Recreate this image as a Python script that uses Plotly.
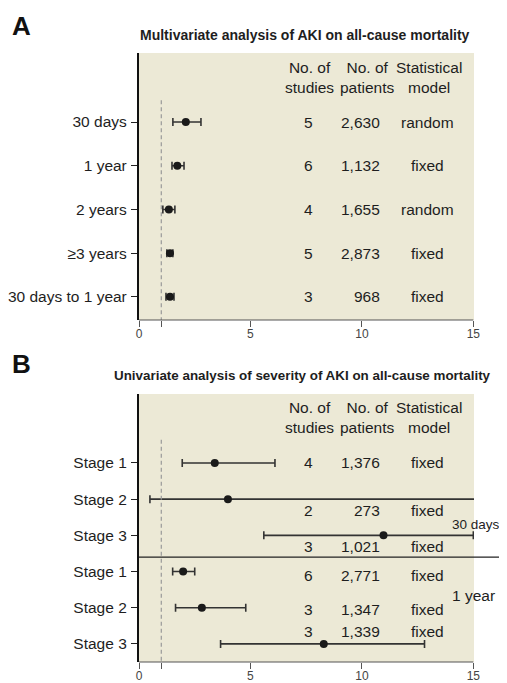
import plotly.graph_objects as go

FONT = "Liberation Sans, Arial, sans-serif"
BG = "#ECE9D6"
INK = "#1e1e1e"

# ---- Panel A data ----
a_labels = ["30 days", "1 year", "2 years", "≥3 years", "30 days to 1 year"]
a_hr = [2.10, 1.72, 1.34, 1.39, 1.39]
a_lo = [1.52, 1.48, 1.07, 1.25, 1.21]
a_hi = [2.78, 2.02, 1.61, 1.52, 1.57]
a_studies = ["5", "6", "4", "5", "3"]
a_patients = ["2,630", "1,132", "1,655", "2,873", "968"]
a_model = ["random", "fixed", "random", "fixed", "fixed"]

# ---- Panel B data ----
b_labels = ["Stage 1", "Stage 2", "Stage 3", "Stage 1", "Stage 2", "Stage 3"]
b_hr = [3.40, 3.99, 10.97, 1.98, 2.82, 8.29]
b_lo = [1.94, 0.49, 5.60, 1.51, 1.64, 3.66]
b_hi = [6.10, 16.5, 15.0, 2.50, 4.79, 12.81]
b_studies = ["4", "2", "3", "6", "3", "3"]
b_patients = ["1,376", "273", "1,021", "2,771", "1,347", "1,339"]
b_model = ["fixed", "fixed", "fixed", "fixed", "fixed", "fixed"]
b_groups = ["30 days", "1 year"]

x_ticks = [0, 1, 5, 10, 15]
x_ticktext = ["0", "", "5", "10", "15"]

# layout positions (row units)
a_rows = [0, 1, 2, 3, 4]
b_rows = [0, 1, 2, 3, 4, 5]
b_text_rows = [0, 1.30, 2.32, 3.12, 4.06, 4.67]
b_group_rows = [1.71, 3.65]
b_group_sizes = [13.5, 15.5]
b_group_x = 13.95

# the page body has an 8px margin, so the figure is offset by 8px
OFF = 8
W, H = 507 - 2 * OFF, 683 - OFF
def px(v):
    return (v - OFF) / W
def py(v):
    return 1 - (v - OFF) / H

TS = 15.5   # text size

fig = go.Figure()

def add_forest(xa, ya, hr, lo, hi, rows):
    fig.add_trace(go.Scatter(
        x=hr, y=rows, mode="markers", xaxis=xa, yaxis=ya,
        marker=dict(color="#1a1a1a", size=8),
        error_x=dict(type="data", symmetric=False,
                     array=[h - m for h, m in zip(hi, hr)],
                     arrayminus=[m - l for m, l in zip(hr, lo)],
                     color="#333333", thickness=1.6, width=4),
        showlegend=False, hoverinfo="skip"))

add_forest("x", "y", a_hr, a_lo, a_hi, a_rows)
add_forest("x2", "y2", b_hr, b_lo, b_hi, b_rows)

xdom = [px(139), px(474)]
xcommon = dict(range=[0, 15.03], tickvals=x_ticks, ticktext=x_ticktext,
               ticks="outside", ticklen=6, tickwidth=1, tickcolor="#555555",
               showline=False, showgrid=False, zeroline=False, automargin=False,
               ticklabelstandoff=-3,
               tickfont=dict(family=FONT, size=12, color="#444444"), domain=xdom)
ycommon = dict(showline=True, linewidth=2.2, linecolor="#111111", ticks="outside",
               ticklen=6, tickwidth=1.4, tickcolor="#222222", showgrid=False,
               zeroline=False, automargin=False,
               tickfont=dict(family=FONT, size=TS, color=INK),
               ticklabelstandoff=1)

fig.update_layout(
    width=W, height=H, margin=dict(l=0, r=0, t=0, b=0, autoexpand=False),
    paper_bgcolor="white", plot_bgcolor=BG,
    xaxis=dict(anchor="y", **xcommon),
    xaxis2=dict(anchor="y2", **xcommon),
    yaxis=dict(anchor="x", domain=[py(320), py(53)], range=[4.53, -1.58],
               tickvals=a_rows, ticktext=a_labels, **ycommon),
    yaxis2=dict(anchor="x2", domain=[py(662), py(394)], range=[5.5, -1.906],
                tickvals=b_rows, ticktext=b_labels, **ycommon),
)

ann = []
def txt(x, y, s, xref, yref, size=TS, xanchor="center", bold=False, color=INK):
    ann.append(dict(x=x, y=y, xref=xref, yref=yref, text=(f"<b>{s}</b>" if bold else s),
                    showarrow=False, xanchor=xanchor, yanchor="middle",
                    font=dict(family=FONT, size=size, color=color)))

# panel letters and titles
txt(px(21), py(26), "A", "paper", "paper", size=26, bold=True, color="#111111")
txt(px(21), py(364), "B", "paper", "paper", size=26, bold=True, color="#111111")
txt(px(305), py(35), "Multivariate analysis of AKI on all-cause mortality", "paper", "paper", size=14, bold=True)
txt(px(302), py(375), "Univariate analysis of severity of AKI on all-cause mortality", "paper", "paper", size=13.4, bold=True)

def columns(xr, yr, head_y, rows, studies, patients, model):
    txt(7.66, head_y, "No. of<br>studies", xr, yr)
    txt(10.25, head_y, "No. of<br>patients", xr, yr)
    txt(13.03, head_y, "Statistical<br>model", xr, yr)
    for r, s, p, m in zip(rows, studies, patients, model):
        txt(7.61, r, s, xr, yr)
        txt(10.9, r, p, xr, yr, xanchor="right")
        txt(12.94, r, m, xr, yr)

columns("x", "y", -1.02, a_rows, a_studies, a_patients, a_model)
columns("x2", "y2", -1.27, b_text_rows, b_studies, b_patients, b_model)
for g, gy, gs in zip(b_groups, b_group_rows, b_group_sizes):
    txt(b_group_x, gy, g, "x2", "y2", xanchor="left", size=gs)

fig.update_layout(annotations=ann)

shapes = []
# reference line at HR = 1
shapes.append(dict(type="line", xref="x", yref="y", x0=1, x1=1, y0=-0.5, y1=4.53,
                   line=dict(color="#999999", width=1.2, dash="4px,3px")))
shapes.append(dict(type="line", xref="x2", yref="y2", x0=1, x1=1, y0=-0.64, y1=5.5,
                   line=dict(color="#999999", width=1.2, dash="4px,3px")))
# bottom axis lines
for xr, yr in [("x", "y domain"), ("x2", "y2 domain")]:
    shapes.append(dict(type="line", xref=xr, yref=yr, x0=0, x1=15, y0=0, y1=0,
                       line=dict(color="#555555", width=1.2)))
# separator between 30 days and 1 year groups
shapes.append(dict(type="line", xref="paper", yref="y2", x0=px(139), x1=1, y0=2.6, y1=2.6,
                   line=dict(color="#222222", width=1.3)))
fig.update_layout(shapes=shapes)

fig.write_html("out.html")
